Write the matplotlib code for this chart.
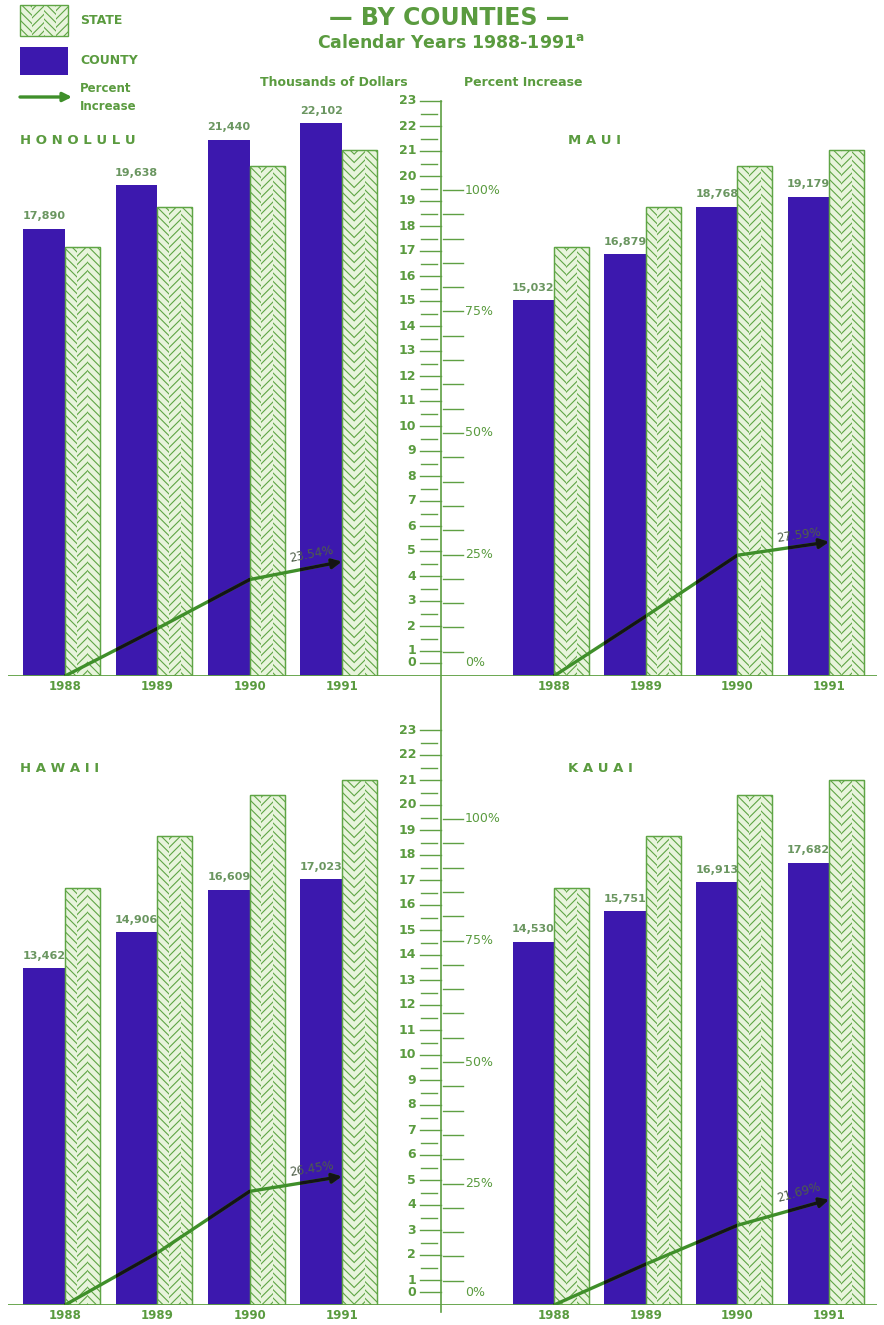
import matplotlib
matplotlib.use('Agg')
import matplotlib.pyplot as plt
from matplotlib.patches import Rectangle, FancyArrowPatch
import matplotlib.transforms as mtransforms
import numpy as np

plt.rcParams['font.family'] = ['DejaVu Sans']
plt.rcParams['hatch.linewidth'] = 0.8
plt.rcParams['mathtext.fontset'] = 'dejavusans'

# ---- data (thousands of dollars / percent) ----
years = ['1988', '1989', '1990', '1991']
honolulu = [17890, 19638, 21440, 22102]
maui = [15032, 16879, 18768, 19179]
hawaii = [13462, 14906, 16609, 17023]
kauai = [14530, 15751, 16913, 17682]
state_upper = [17160, 18760, 20400, 21040]
state_lower = [16680, 18760, 20400, 21000]
honolulu_pct = [0, 9.77, 19.84, 23.54]
maui_pct = [0, 12.29, 24.85, 27.59]
hawaii_pct = [0, 10.73, 23.38, 26.45]
kauai_pct = [0, 8.40, 16.40, 21.69]
dollar_ticks = list(range(0, 24))
pct_ticks = list(range(5, 105, 5))
pct_labels = [0, 25, 50, 75, 100]

# ---- styling ----
GREEN = '#5a9b3f'
AXIS_GREEN = '#5fa043'
BLUE = '#3c18ae'
STATE_FACE = '#e8f4dc'
HATCH = '#5fa545'
PCT_LINE = '#3f8f2a'
VAL = '#6a9660'
PCT_TEXT = '#4f5f4a'
PCT_UNITS = 19.44 / 100.0   # percent scale expressed in thousands-of-dollars units

W, H = 884, 1325
fig = plt.figure(figsize=(W / 100, H / 100), dpi=100)


def frac(x0, y0, x1, y1):
    """Pixel box (origin top-left) -> figure rectangle."""
    return [x0 / W, 1 - y1 / H, (x1 - x0) / W, (y1 - y0) / H]


# full-figure overlay in pixel coordinates for titles, legend and the scale
ov = fig.add_axes([0, 0, 1, 1])
ov.set_xlim(0, W)
ov.set_ylim(H, 0)
ov.axis('off')

UNIT_PX = 25.0
rows = {'top': 676, 'bottom': 1305}
cols = {'left': (8, 441, 65, 92.3), 'right': (441, 877, 554, 91.7)}

panels = [
    ('H O N O L U L U', honolulu, state_upper, honolulu_pct, 'top', 'left'),
    ('M A U I', maui, state_upper, maui_pct, 'top', 'right'),
    ('H A W A I I', hawaii, state_lower, hawaii_pct, 'bottom', 'left'),
    ('K A U A I', kauai, state_lower, kauai_pct, 'bottom', 'right'),
]

CW, SW = 0.45, 0.38
strip_hatches = ['\\\\\\\\', '////', '\\\\\\\\']
row_axes = {}

for name, county, state, pct, row, col in panels:
    base = rows[row]
    x0, x1, c0, step = cols[col]
    ax = fig.add_axes(frac(x0, base - 23 * UNIT_PX, x1, base))
    ax.set_xlim((x0 - c0) / step, (x1 - c0) / step)
    ax.set_ylim(0, 23)
    ax.axis('off')
    row_axes[row] = ax

    idx = np.arange(len(years))
    cv = np.array(county) / 1000.0
    sv = np.array(state) / 1000.0

    cbars = ax.bar(idx, cv, width=-CW, align='edge', color=BLUE, linewidth=0, zorder=2)
    ax.bar(idx, sv, width=SW, align='edge', color=STATE_FACE, edgecolor=HATCH,
           linewidth=0.9, zorder=2)
    for k, hz in enumerate(strip_hatches):
        ax.bar(idx + k * SW / 3, sv, width=SW / 3, align='edge', fill=False,
               hatch=hz, edgecolor=HATCH, linewidth=0, zorder=3)
    ax.bar(idx, sv, width=SW, align='edge', fill=False, edgecolor=HATCH,
           linewidth=0.9, zorder=3)

    ax.axhline(0, color=AXIS_GREEN, lw=1.3, zorder=4)

    for i, v in enumerate(county):
        ax.text(i - CW / 2, v / 1000.0 + 0.3, f'{v:,}', ha='center', va='bottom',
                fontsize=8, color=VAL, fontweight='bold')
        ax.text(i, -0.15, years[i], ha='center', va='top', fontsize=8.5,
                color=GREEN, fontweight='bold')

    # percent-increase line with arrowhead; darker where it crosses county bars
    py = np.array(pct) * PCT_UNITS
    for color, clips in ((PCT_LINE, [None]), ('#141414', list(cbars))):
        for clip in clips:
            ln, = ax.plot(idx[:3], py[:3], color=color, lw=2.4, zorder=5,
                          solid_capstyle='butt')
            arr = FancyArrowPatch((idx[2], py[2]), (idx[3], py[3]), arrowstyle='-|>',
                                  mutation_scale=14, color=color, lw=2.4,
                                  shrinkA=0, shrinkB=0, zorder=5)
            ax.add_patch(arr)
            if clip is not None:
                ln.set_clip_path(clip)
                arr.set_clip_path(clip)

    p0 = ax.transData.transform((idx[2], py[2]))
    p1 = ax.transData.transform((idx[3], py[3]))
    ang = np.degrees(np.arctan2(p1[1] - p0[1], p1[0] - p0[0]))
    ax.text(idx[3] - 0.33, py[3] + 0.28, f'{pct[3]:.2f}%', ha='center', va='center',
            rotation=ang, rotation_mode='anchor', fontsize=8.5, color=PCT_TEXT,
            zorder=6)

    tx = 20 if col == 'left' else 568
    ov.text(tx, base - (676 - 140), name, ha='left', va='center', fontsize=9.5,
            fontweight='bold', color=GREEN)

# ---- central dollar / percent scale ----
for row, base in rows.items():
    ax = row_axes[row]
    tr = mtransforms.blended_transform_factory(ov.transData, ax.transData)
    for d in dollar_ticks:
        y = d if d > 0 else 0.52
        ov.plot([420, 441], [y, y], color=AXIS_GREEN, lw=1.0, transform=tr)
        ov.text(416, y, str(d), ha='right', va='center', fontsize=9,
                fontweight='bold', color=GREEN, transform=tr)
        if 0 < d < 23:
            ov.plot([421, 437], [d + 0.5, d + 0.5], color=AXIS_GREEN, lw=1.0,
                    transform=tr)
    for p in pct_ticks:
        y = p * PCT_UNITS
        ov.plot([443, 463], [y, y], color=AXIS_GREEN, lw=1.0, transform=tr)
    for p in pct_labels:
        y = p * PCT_UNITS if p > 0 else 0.52
        ov.text(465, y, f'{p}%', ha='left', va='center', fontsize=9,
                color=GREEN, transform=tr)

ov.plot([441, 441], [101, 1312], color=AXIS_GREEN, lw=1.2)

# ---- titles ----
ov.text(449, 18, '\u2014 BY COUNTIES \u2014', ha='center', va='center', fontsize=17,
        fontweight='bold', color=GREEN)
ov.text(451, 43, r'Calendar Years 1988-1991$^{\mathregular{a}}$', ha='center',
        va='center', fontsize=12.5, fontweight='bold', color=GREEN)
ov.text(334, 83, 'Thousands of Dollars', ha='center', va='center', fontsize=9,
        fontweight='bold', color=GREEN)
ov.text(523, 83, 'Percent Increase', ha='center', va='center', fontsize=9,
        fontweight='bold', color=GREEN)

# ---- legend ----
ov.add_patch(Rectangle((20, 5), 48, 31, facecolor=STATE_FACE, edgecolor=HATCH, lw=1.0))
for k, hz in enumerate(['\\\\\\\\', '////', '\\\\\\\\', '////']):
    ov.add_patch(Rectangle((20 + k * 12, 5), 12, 31, fill=False, hatch=hz,
                           edgecolor=HATCH, lw=0))
ov.add_patch(Rectangle((20, 47), 48, 28, facecolor=BLUE, lw=0))
ov.add_patch(FancyArrowPatch((20, 97), (72, 97), arrowstyle='-|>', mutation_scale=13,
                             color=PCT_LINE, lw=2.4, shrinkA=0, shrinkB=0))
ov.text(80, 20, 'STATE', ha='left', va='center', fontsize=9, fontweight='bold',
        color=GREEN)
ov.text(80, 61, 'COUNTY', ha='left', va='center', fontsize=9, fontweight='bold',
        color=GREEN)
ov.text(80, 88, 'Percent', ha='left', va='center', fontsize=8.5, fontweight='bold',
        color=GREEN)
ov.text(80, 106, 'Increase', ha='left', va='center', fontsize=8.5, fontweight='bold',
        color=GREEN)

fig.savefig('out.png', dpi=100)
